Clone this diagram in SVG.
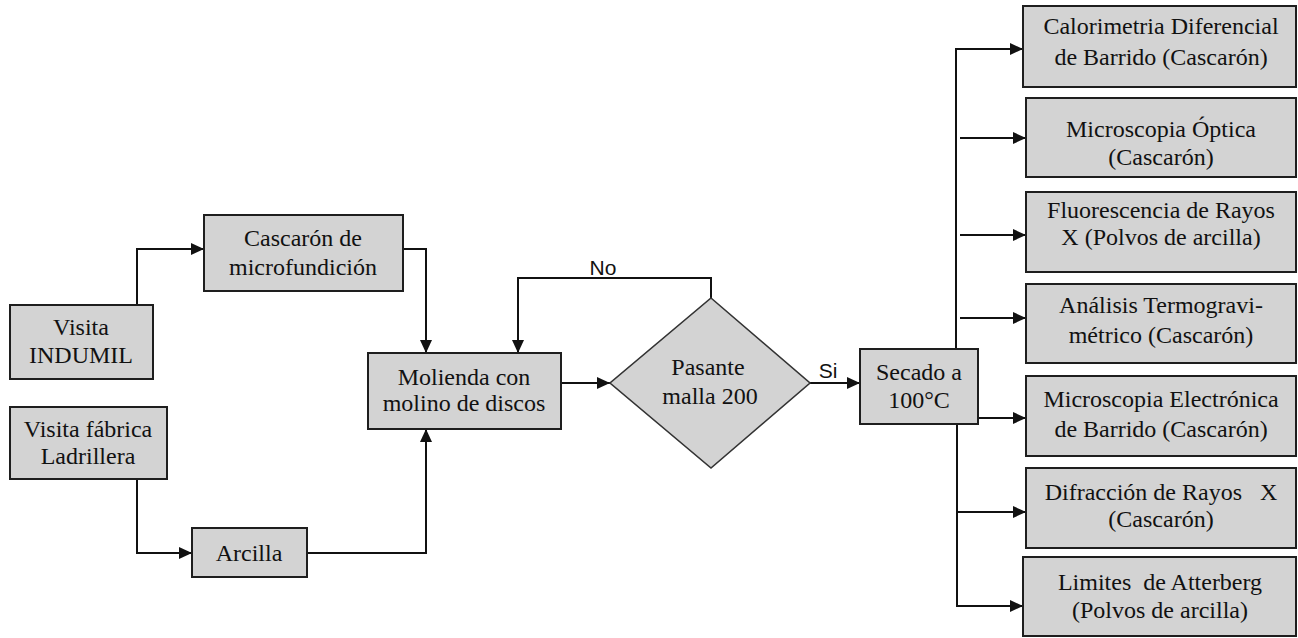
<svg xmlns="http://www.w3.org/2000/svg" width="1298" height="638" viewBox="0 0 1298 638">
<style>
.box{fill:#d3d3d3;stroke:#1e1e1e;stroke-width:2}
.dia{fill:#d3d3d3;stroke:#333;stroke-width:1.6}
.t{font-family:"Liberation Serif","Times New Roman",serif;font-size:24px;fill:#111;text-anchor:middle}
.lbl{font-family:"Liberation Sans",Arial,sans-serif;font-size:21px;fill:#111;text-anchor:middle}
.c{fill:none;stroke:#111;stroke-width:2}
.a{marker-end:url(#arr)}
</style>
<defs>
<marker id="arr" markerUnits="userSpaceOnUse" markerWidth="14" markerHeight="12" refX="13" refY="6" orient="auto">
<path d="M0,0 L13,6 L0,12 z" fill="#111"/>
</marker>
</defs>
<rect width="1298" height="638" fill="#fff"/>
<g id="connectors">
<path class="c a" d="M137,305 V249 H204"/>
<path class="c a" d="M137,479 V553 H192"/>
<path class="c a" d="M403,249 H426 V353"/>
<path class="c a" d="M307,553 H426 V429"/>
<path class="c a" d="M561,383 H610"/>
<path class="c a" d="M711,298 V278 H518 V353"/>
<path class="c a" d="M810,383 H860"/>
<path class="c a" d="M956,349 V49 H1023"/>
<path class="c a" d="M960,138 H1026"/>
<path class="c a" d="M960,235 H1026"/>
<path class="c a" d="M960,318 H1026"/>
<path class="c a" d="M978,418 H1026"/>
<path class="c a" d="M957,424 V606 H1023"/>
<path class="c a" d="M957,512 H1026"/>
<text class="lbl" x="603" y="275">No</text>
<text class="lbl" x="828" y="378">Si</text>
</g>
<g id="visita-indumil">
<rect class="box" x="10" y="305" width="143" height="74"/>
<text class="t" x="81" y="335">Visita</text>
<text class="t" x="81" y="363">INDUMIL</text>
</g>
<g id="visita-fabrica">
<rect class="box" x="10" y="407" width="157" height="72"/>
<text class="t" x="88" y="437">Visita fábrica</text>
<text class="t" x="88" y="464">Ladrillera</text>
</g>
<g id="cascaron">
<rect class="box" x="204" y="215" width="199" height="76"/>
<text class="t" x="303" y="246">Cascarón de</text>
<text class="t" x="303" y="275">microfundición</text>
</g>
<g id="arcilla">
<rect class="box" x="192" y="528" width="115" height="49"/>
<text class="t" x="249" y="561">Arcilla</text>
</g>
<g id="molienda">
<rect class="box" x="368" y="353" width="193" height="76"/>
<text class="t" x="464" y="385">Molienda con</text>
<text class="t" x="464" y="411">molino de discos</text>
</g>
<g id="pasante">
<polygon class="dia" points="711,298 810,383 711,468 610,383"/>
<text class="t" x="708" y="375">Pasante</text>
<text class="t" x="710" y="404">malla 200</text>
</g>
<g id="secado">
<rect class="box" x="860" y="349" width="118" height="75"/>
<text class="t" x="919" y="380">Secado a</text>
<text class="t" x="919" y="408">100°C</text>
</g>
<g id="calorimetria">
<rect class="box" x="1023" y="6" width="273" height="81"/>
<text class="t" x="1161" y="34">Calorimetria Diferencial</text>
<text class="t" x="1161" y="65">de Barrido (Cascarón)</text>
</g>
<g id="microscopia-optica">
<rect class="box" x="1026" y="98" width="270" height="79"/>
<text class="t" x="1161" y="137">Microscopia Óptica</text>
<text class="t" x="1161" y="165">(Cascarón)</text>
</g>
<g id="fluorescencia">
<rect class="box" x="1026" y="192" width="270" height="80"/>
<text class="t" x="1161" y="218">Fluorescencia de Rayos</text>
<text class="t" x="1161" y="245">X (Polvos de arcilla)</text>
</g>
<g id="termogravimetrico">
<rect class="box" x="1026" y="284" width="270" height="79"/>
<text class="t" x="1161" y="313">Análisis Termogravi-</text>
<text class="t" x="1161" y="343">métrico (Cascarón)</text>
</g>
<g id="microscopia-electronica">
<rect class="box" x="1026" y="376" width="270" height="80"/>
<text class="t" x="1161" y="407">Microscopia Electrónica</text>
<text class="t" x="1161" y="437">de Barrido (Cascarón)</text>
</g>
<g id="difraccion">
<rect class="box" x="1026" y="468" width="270" height="80"/>
<text class="t" x="1161" y="500" style="white-space:pre" xml:space="preserve">Difracción de Rayos   X</text>
<text class="t" x="1161" y="527">(Cascarón)</text>
</g>
<g id="limites">
<rect class="box" x="1023" y="557" width="273" height="79"/>
<text class="t" x="1160" y="590" style="white-space:pre" xml:space="preserve">Limites  de Atterberg</text>
<text class="t" x="1160" y="618">(Polvos de arcilla)</text>
</g>
</svg>
